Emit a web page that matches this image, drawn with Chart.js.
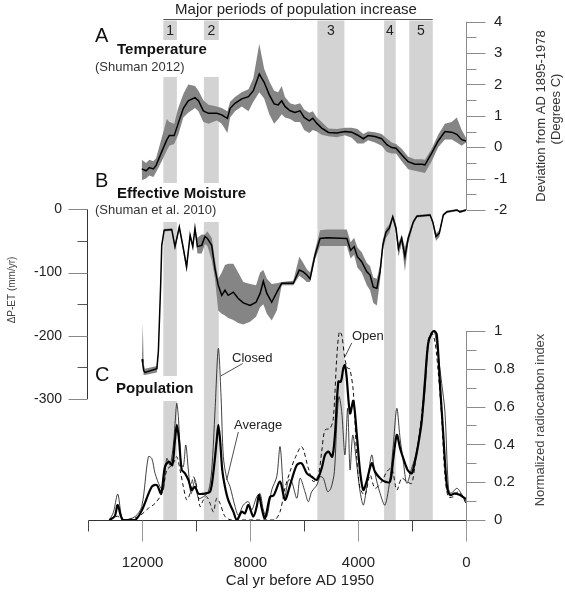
<!DOCTYPE html>
<html>
<head>
<meta charset="utf-8">
<script src="https://cdn.jsdelivr.net/npm/chart.js@4"></script>
<style>
  body { margin: 0; background: #fff; }
  #wrap { width: 565px; height: 595px; }
</style>
</head>
<body>
<div id="wrap"><canvas id="chart" width="565" height="595"></canvas></div>
<script>
// Periods of population increase (cal yr BP)
var periodLabels = ['1', '2', '3', '4', '5'];
var periodStarts = [11200, 9700, 5500, 3030, 2100];
var periodEnds = [10700, 9150, 4500, 2600, 1230];

// A: temperature anomaly (deg C)
var tempYears = [12000, 11840, 11720, 11570, 11470, 11260, 11070, 10980, 10800, 10650, 10460, 10280, 10030, 9900, 9720, 9530, 9220, 9040, 8830, 8730, 8550, 8300, 8050, 7870, 7650, 7470, 7280, 7100, 6950, 6820, 6700, 6510, 6330, 6140, 5990, 5800, 5670, 5520, 5340, 5090, 4780, 4480, 4230, 4020, 3800, 3620, 3370, 3120, 2930, 2750, 2590, 2380, 2140, 1890, 1640, 1520, 1270, 1030, 780, 530, 340, 160, 0];
var tempMean = [-0.69, -0.75, -0.65, -0.69, -0.58, -0.14, 0.24, 0.37, 0.37, 0.76, 1.24, 1.48, 1.58, 1.48, 1.16, 1.08, 1.08, 1.03, 0.92, 1.24, 1.40, 1.54, 1.61, 1.80, 2.33, 2.07, 1.67, 1.38, 1.35, 1.48, 1.30, 1.16, 1.11, 1.16, 0.95, 0.84, 0.92, 0.76, 0.61, 0.47, 0.45, 0.50, 0.48, 0.39, 0.27, 0.37, 0.34, 0.27, 0.08, -0.01, -0.03, -0.24, -0.46, -0.54, -0.54, -0.56, -0.19, 0.20, 0.50, 0.48, 0.41, 0.24, 0.20];
var tempHigh = [-0.40, -0.50, -0.40, -0.45, -0.35, 0.30, 0.90, 0.80, 0.75, 1.25, 1.70, 2.00, 1.95, 1.80, 1.50, 1.35, 1.30, 1.25, 1.15, 1.45, 1.60, 1.75, 1.85, 2.20, 3.30, 2.50, 2.10, 1.80, 1.75, 1.95, 1.60, 1.40, 1.35, 1.40, 1.20, 1.10, 1.15, 0.95, 0.80, 0.60, 0.58, 0.62, 0.62, 0.58, 0.42, 0.50, 0.48, 0.42, 0.28, 0.15, 0.10, -0.05, -0.30, -0.38, -0.38, -0.40, -0.05, 0.40, 0.75, 0.80, 0.95, 0.55, 0.30];
var tempLow = [-1.05, -1.00, -0.90, -0.95, -0.80, -0.45, -0.10, 0.05, 0.10, 0.40, 0.95, 1.10, 1.25, 1.15, 0.80, 0.75, 0.85, 0.75, 0.45, 0.95, 1.15, 1.30, 1.15, 1.45, 1.75, 1.55, 1.05, 0.75, 0.90, 1.05, 0.95, 0.90, 0.80, 0.80, 0.55, 0.45, 0.55, 0.50, 0.40, 0.35, 0.32, 0.38, 0.30, 0.12, 0.12, 0.22, 0.15, 0.05, -0.15, -0.20, -0.20, -0.45, -0.70, -0.75, -0.80, -0.82, -0.45, 0.00, 0.25, 0.25, 0.15, 0.05, 0.15];

// B: effective moisture, delta P-ET (mm/yr)
var moistYears = [11990, 11960, 11930, 11880, 11440, 11385, 11300, 11260, 11170, 10890, 10770, 10610, 10460, 10340, 10210, 10110, 10030, 9940, 9780, 9660, 9570, 9410, 9290, 9170, 9040, 8920, 8800, 8610, 8430, 8240, 7990, 7770, 7620, 7500, 7370, 7190, 7000, 6820, 6390, 6170, 6020, 5890, 5770, 5590, 5400, 5150, 4410, 4270, 4140, 4020, 3860, 3670, 3550, 3430, 3300, 3180, 3080, 2960, 2840, 2710, 2590, 2500, 2380, 2260, 2140, 1950, 1820, 1330, 1230, 1110, 990, 840, 710, 340, 220, 0];
var moistMean = [-237, -245, -255, -258, -252, -225, -120, -57, -33, -32, -59, -28, -62, -91, -41, -59, -30, -59, -57, -43, -46, -57, -94, -120, -136, -128, -136, -131, -141, -148, -152, -147, -133, -114, -133, -147, -131, -117, -117, -96, -99, -104, -110, -73, -46, -45, -46, -65, -59, -75, -83, -99, -104, -123, -125, -99, -57, -36, -30, -12, -30, -62, -46, -75, -46, -20, -11, -9, -20, -43, -38, -9, -4, -1, -4, -1];
var moistHigh = [-230, -180, -245, -252, -248, -220, -115, -54, -31, -30, -55, -25, -58, -85, -38, -55, -28, -45, -40, -40, -35, -45, -80, -110, -100, -88, -86, -86, -100, -115, -118, -120, -100, -96, -110, -118, -117, -115, -113, -75, -85, -95, -100, -65, -33, -32, -32, -52, -45, -60, -68, -85, -90, -108, -110, -88, -48, -30, -24, -8, -24, -54, -40, -60, -40, -17, -9, -7, -17, -38, -33, -7, -2, 0, -2, 0];
var moistLow = [-240, -250, -262, -262, -258, -232, -125, -60, -35, -34, -65, -32, -68, -100, -45, -64, -34, -70, -70, -55, -58, -80, -110, -160, -165, -168, -172, -175, -180, -182, -178, -170, -155, -150, -165, -176, -160, -120, -120, -105, -110, -115, -115, -80, -58, -58, -58, -78, -72, -92, -100, -120, -128, -148, -152, -112, -66, -45, -38, -15, -38, -75, -55, -98, -55, -24, -13, -11, -24, -50, -44, -11, -6, -3, -6, -3];

// C: population, normalized radiocarbon index
var avgYears = [13200, 13000, 12890, 12700, 12250, 12000, 11630, 11440, 11285, 11140, 10990, 10870, 10770, 10700, 10620, 10520, 10400, 10275, 10150, 10030, 9905, 9660, 9470, 9350, 9225, 9165, 9100, 9020, 8920, 8800, 8610, 8480, 8300, 8180, 8055, 7870, 7745, 7660, 7560, 7440, 7250, 7120, 6880, 6700, 6510, 6260, 6080, 5890, 5710, 5520, 5340, 5220, 5090, 4950, 4850, 4725, 4630, 4540, 4480, 4420, 4290, 4170, 4040, 3920, 3800, 3680, 3490, 3370, 3180, 3000, 2810, 2690, 2560, 2440, 2320, 2160, 2010, 1890, 1770, 1640, 1520, 1400, 1270, 1170, 1080, 960, 840, 710, 590, 410, 220, 40, 0];
var avgIndex = [0, 0.02, 0.079, 0, 0, 0.05, 0.176, 0.185, 0.14, 0.282, 0.309, 0.29, 0.423, 0.503, 0.423, 0.265, 0.247, 0.212, 0.159, 0.176, 0.14, 0.14, 0.15, 0.25, 0.423, 0.503, 0.423, 0.265, 0.176, 0.106, 0.044, 0, 0.044, 0.035, 0.079, 0.018, 0.071, 0.132, 0.062, 0.009, 0.123, 0.13, 0.203, 0.106, 0.185, 0.291, 0.30, 0.247, 0.229, 0.212, 0.274, 0.344, 0.362, 0.335, 0.45, 0.732, 0.732, 0.803, 0.82, 0.76, 0.564, 0.63, 0.45, 0.256, 0.159, 0.203, 0.30, 0.256, 0.221, 0.203, 0.203, 0.326, 0.45, 0.38, 0.326, 0.265, 0.247, 0.309, 0.397, 0.52, 0.732, 0.935, 0.988, 1.0, 0.979, 0.714, 0.45, 0.185, 0.132, 0.141, 0.132, 0.115, 0.11];
var closedYears = [13200, 13050, 12890, 12750, 12650, 12247, 12000, 11755, 11629, 11507, 11322, 11200, 11074, 10952, 10830, 10767, 10704, 10645, 10545, 10460, 10371, 10275, 10175, 10027, 9905, 9720, 9535, 9409, 9287, 9165, 9065, 8980, 8854, 8732, 8547, 8425, 8240, 8055, 7930, 7744, 7622, 7500, 7374, 7189, 7004, 6880, 6720, 6570, 6450, 6260, 6140, 5960, 5835, 5710, 5520, 5400, 5280, 5120, 5000, 4870, 4780, 4700, 4600, 4480, 4380, 4290, 4190, 4040, 3920, 3800, 3680, 3490, 3370, 3180, 3000, 2810, 2690, 2560, 2440, 2320, 2190, 2010, 1890, 1700, 1520, 1400, 1270, 1170, 1050, 900, 780, 650, 560, 340, 220, 0];
var closedIndex = [0, 0.04, 0.137, 0.02, 0, 0.018, 0.071, 0.335, 0.326, 0.247, 0.176, 0.159, 0.326, 0.291, 0.397, 0.511, 0.617, 0.547, 0.30, 0.282, 0.397, 0.265, 0.14, 0.212, 0.115, 0.123, 0.15, 0.265, 0.582, 0.908, 0.652, 0.335, 0.22, 0.176, 0.071, 0.026, 0.079, 0.097, 0.053, 0.123, 0.14, 0.053, 0.018, 0.159, 0.229, 0.388, 0.115, 0.212, 0.203, 0.115, 0.221, 0.15, 0.097, 0.15, 0.185, 0.229, 0.221, 0.15, 0.168, 0.256, 0.52, 0.653, 0.573, 0.344, 0.591, 0.265, 0.45, 0.291, 0.15, 0.079, 0.168, 0.344, 0.247, 0.141, 0.079, 0.221, 0.397, 0.591, 0.432, 0.309, 0.194, 0.274, 0.326, 0.467, 0.679, 0.926, 0.996, 1.0, 0.891, 0.723, 0.573, 0.168, 0.141, 0.168, 0.15, 0.097];
var openYears = [13200, 12900, 12700, 12124, 11755, 11507, 11259, 11074, 10952, 10830, 10704, 10582, 10460, 10334, 10212, 10090, 9964, 9842, 9720, 9594, 9472, 9350, 9224, 9102, 8917, 8670, 7250, 7070, 6880, 6700, 6510, 6330, 6080, 5835, 5650, 5465, 5340, 5220, 5030, 4910, 4785, 4690, 4600, 4480, 4380, 4300, 4170, 4040, 3920, 3740, 3550, 3370, 3120, 2930, 2750, 2560, 2380, 2190, 2010, 1890, 1700, 1520, 1400, 1270, 1150, 1030, 900, 780, 655, 470, 285, 100, 0];
var openIndex = [0, 0.02, 0, 0.018, 0.062, 0.088, 0.141, 0.265, 0.282, 0.30, 0.335, 0.265, 0.176, 0.106, 0.141, 0.229, 0.176, 0.071, 0.106, 0.123, 0.088, 0.044, 0.115, 0.088, 0.018, 0, 0, 0, 0.044, 0.168, 0.257, 0.326, 0.388, 0.274, 0.203, 0.238, 0.362, 0.476, 0.485, 0.538, 0.855, 0.996, 0.979, 0.85, 0.803, 0.80, 0.679, 0.326, 0.168, 0.132, 0.238, 0.168, 0.203, 0.256, 0.274, 0.159, 0.221, 0.203, 0.194, 0.291, 0.485, 0.732, 0.952, 0.988, 0.944, 0.785, 0.538, 0.238, 0.123, 0.123, 0.150, 0.115, 0.088];

// Axis ticks
var yearTicks = [12000, 8000, 4000, 0];
var yearMinorTicks = [14000, 10000, 6000, 2000];
var tempTicks = [4, 3, 2, 1, 0, -1, -2];
var moistTicks = [0, -100, -200, -300];
var popTicks = [0, 0.2, 0.4, 0.6, 0.8, 1];

var FONT = '"Liberation Sans", Arial, sans-serif';
var BAND = '#d3d3d3';
var SHADE = '#858585';

function pts(xs, ys) {
  return xs.map(function(x, i) { return { x: x, y: ys[i] }; });
}

// grey bars for the periods, drawn behind everything
var periodBands = {
  id: 'periodBands',
  beforeDatasetsDraw: function(chart) {
    var ctx = chart.ctx, xs = chart.scales.x;
    ctx.save();
    ctx.fillStyle = BAND;
    periodStarts.forEach(function(s, i) {
      var x1 = xs.getPixelForValue(s), x2 = xs.getPixelForValue(periodEnds[i]);
      var segs;
      if (i === 0) segs = [[20.5, 40], [77, 183], [222, 376], [401, 520]];
      else if (i === 1) segs = [[20.5, 40], [77, 183], [222, 520]];
      else segs = [[20.5, 520]];
      segs.forEach(function(sg) { ctx.fillRect(x1, sg[0], x2 - x1, sg[1] - sg[0]); });
    });
    ctx.restore();
  }
};

function text(ctx, str, x, y, font, align, color) {
  ctx.font = font;
  ctx.textAlign = align || 'left';
  ctx.textBaseline = 'middle';
  ctx.fillStyle = color || '#111';
  ctx.fillText(str, x, y);
}

function vtext(ctx, str, x, y, font, color) {
  ctx.save();
  ctx.translate(x, y);
  ctx.rotate(-Math.PI / 2);
  text(ctx, str, 0, 0, font, 'center', color);
  ctx.restore();
}

function line(ctx, x1, y1, x2, y2, color, w) {
  ctx.strokeStyle = color;
  ctx.lineWidth = w || 1;
  ctx.beginPath();
  ctx.moveTo(x1, y1);
  ctx.lineTo(x2, y2);
  ctx.stroke();
}

// axes, labels and annotations
var decorations = {
  id: 'decorations',
  afterDraw: function(chart) {
    var ctx = chart.ctx, xs = chart.scales.x;
    var yt = chart.scales.yTemp, ym = chart.scales.yMoist, yp = chart.scales.yPop;
    var xr = Math.round(xs.getPixelForValue(0)) + 0.5;
    var xl = Math.round(xs.getPixelForValue(14000)) + 0.5;
    var tickFont = '14px ' + FONT;
    ctx.save();

    // top header
    text(ctx, 'Major periods of population increase', 296, 10, '15px ' + FONT, 'center', '#222');
    line(ctx, xs.getPixelForValue(periodStarts[0]), 19.5, xs.getPixelForValue(periodEnds[4]), 19.5, '#555', 1);
    periodLabels.forEach(function(l, i) {
      var xc = (xs.getPixelForValue(periodStarts[i]) + xs.getPixelForValue(periodEnds[i])) / 2;
      text(ctx, l, xc, 31, '14px ' + FONT, 'center', '#222');
    });

    // A: right axis temperature
    var y4 = yt.getPixelForValue(4), yM2 = yt.getPixelForValue(-2);
    line(ctx, xr, y4, xr, yM2, '#8c8c8c', 1);
    for (var v = 4; v >= -2; v -= 0.5) {
      var py = Math.round(yt.getPixelForValue(v)) + 0.5;
      var major = Math.abs(v - Math.round(v)) < 0.01;
      line(ctx, xr, py, xr + (major ? 19 : 10), py, '#8c8c8c', 1);
    }
    tempTicks.forEach(function(t) {
      text(ctx, String(t), 494, yt.getPixelForValue(t), '15px ' + FONT, 'left', '#222');
    });
    vtext(ctx, 'Deviation from AD 1895-1978', 541, 116, '13px ' + FONT, '#333');
    vtext(ctx, '(Degrees C)', 556, 109, '13px ' + FONT, '#333');

    // B: left axis moisture
    var xa = Math.round(xs.getPixelForValue(14000) - 1) + 0.5;
    line(ctx, xa, ym.getPixelForValue(0), xa, ym.getPixelForValue(-300), '#333', 1);
    for (var m = 0; m >= -300; m -= 50) {
      var my = Math.round(ym.getPixelForValue(m)) + 0.5;
      var mj = m % 100 === 0;
      line(ctx, xa - (mj ? 19 : 10), my, xa, my, mj ? '#888' : '#555', 1);
    }
    moistTicks.forEach(function(t) {
      text(ctx, String(t), 62, ym.getPixelForValue(t), tickFont, 'right', '#222');
    });
    vtext(ctx, '\u0394P-ET (mm/yr)', 12, 290, '10px ' + FONT, '#444');

    // C: right axis population
    line(ctx, xr, yp.getPixelForValue(1), xr, yp.getPixelForValue(0), '#8c8c8c', 1);
    for (var k = 0; k <= 10; k++) {
      var ky = Math.round(yp.getPixelForValue(k / 10)) + 0.5;
      line(ctx, xr, ky, xr + (k % 2 === 0 ? 19 : 10), ky, '#8c8c8c', 1);
    }
    popTicks.forEach(function(t) {
      text(ctx, String(t), 494, yp.getPixelForValue(t), '15px ' + FONT, 'left', '#222');
    });
    vtext(ctx, 'Normalized radiocarbon index', 540, 420, '13px ' + FONT, '#444');

    // x axis
    var yb = Math.round(yp.getPixelForValue(0)) + 0.5;
    line(ctx, xl, yb, xr, yb, '#333', 1);
    yearTicks.forEach(function(t) {
      var tx = Math.round(xs.getPixelForValue(t)) + 0.5;
      line(ctx, tx, yb, tx, yb + 21, '#999', 1);
      text(ctx, String(t), tx, 563, '15px ' + FONT, 'center', '#222');
    });
    yearMinorTicks.forEach(function(t) {
      var tx = Math.round(xs.getPixelForValue(t)) + 0.5;
      line(ctx, tx, yb, tx, yb + 11, '#444', 1);
    });
    text(ctx, 'Cal yr before AD 1950', 300, 581, '15px ' + FONT, 'center', '#222');

    // panel titles
    text(ctx, 'A', 95, 36, '20px ' + FONT);
    text(ctx, 'Temperature', 117, 50, 'bold 15px ' + FONT);
    text(ctx, '(Shuman 2012)', 95, 67, '13px ' + FONT, 'left', '#333');
    text(ctx, 'B', 95, 181, '20px ' + FONT);
    text(ctx, 'Effective Moisture', 117, 194, 'bold 15px ' + FONT);
    text(ctx, '(Shuman et al. 2010)', 95, 210, '13px ' + FONT, 'left', '#333');
    text(ctx, 'C', 95, 375, '20px ' + FONT);
    text(ctx, 'Population', 116, 389, 'bold 15px ' + FONT);

    // series labels with leaders
    text(ctx, 'Closed', 232, 358, '13px ' + FONT, 'left', '#222');
    line(ctx, 242.7, 363.5, 220.7, 376, '#222', 0.8);
    text(ctx, 'Average', 234, 425, '13px ' + FONT, 'left', '#222');
    line(ctx, 238.3, 432, 226.7, 480, '#222', 0.8);
    text(ctx, 'Open', 352, 336, '13px ' + FONT, 'left', '#222');
    line(ctx, 351.7, 343, 345, 356.7, '#222', 0.8);

    ctx.restore();
  }
};

var lineBase = { pointRadius: 0, fill: false, tension: 0 };

var ctx = document.getElementById('chart').getContext('2d');
var chart = new Chart(ctx, {
  type: 'line',
  data: {
    datasets: [
      Object.assign({}, lineBase, { label: 'tempMean', data: pts(tempYears, tempMean), yAxisID: 'yTemp', borderColor: '#000', borderWidth: 1.5, order: 1 }),
      Object.assign({}, lineBase, { label: 'tempHigh', data: pts(tempYears, tempHigh), yAxisID: 'yTemp', borderWidth: 0, borderColor: SHADE, order: 3 }),
      Object.assign({}, lineBase, { label: 'tempLow', data: pts(tempYears, tempLow), yAxisID: 'yTemp', borderWidth: 0, borderColor: SHADE, backgroundColor: SHADE, fill: '-1', order: 3 }),
      Object.assign({}, lineBase, { label: 'moistMean', data: pts(moistYears, moistMean), yAxisID: 'yMoist', borderColor: '#000', borderWidth: 1.5, order: 1 }),
      Object.assign({}, lineBase, { label: 'moistHigh', data: pts(moistYears, moistHigh), yAxisID: 'yMoist', borderWidth: 0, borderColor: SHADE, order: 3 }),
      Object.assign({}, lineBase, { label: 'moistLow', data: pts(moistYears, moistLow), yAxisID: 'yMoist', borderWidth: 0, borderColor: SHADE, backgroundColor: SHADE, fill: '-1', order: 3 }),
      Object.assign({}, lineBase, { label: 'Open', data: pts(openYears, openIndex), yAxisID: 'yPop', borderColor: '#111', borderWidth: 1, borderDash: [4, 3], tension: 0.3, order: 2 }),
      Object.assign({}, lineBase, { label: 'Closed', data: pts(closedYears, closedIndex), yAxisID: 'yPop', borderColor: '#111', borderWidth: 0.8, tension: 0.3, order: 2 }),
      Object.assign({}, lineBase, { label: 'Average', data: pts(avgYears, avgIndex), yAxisID: 'yPop', borderColor: '#000', borderWidth: 2.2, tension: 0.3, order: 1 })
    ]
  },
  options: {
    responsive: false,
    animation: false,
    devicePixelRatio: 1,
    layout: { padding: { left: 87.7, right: 99, top: 20, bottom: 75 } },
    plugins: { legend: { display: false }, tooltip: { enabled: false } },
    scales: {
      x: { type: 'linear', min: 0, max: 14000, reverse: true, display: false },
      yTemp: { type: 'linear', min: -11.878, max: 4.054, display: false },
      yMoist: { type: 'linear', min: -491.4, max: 299.4, display: false },
      yPop: { type: 'linear', min: 0, max: 2.6455, display: false }
    }
  },
  plugins: [periodBands, decorations]
});
</script>
</body>
</html>
